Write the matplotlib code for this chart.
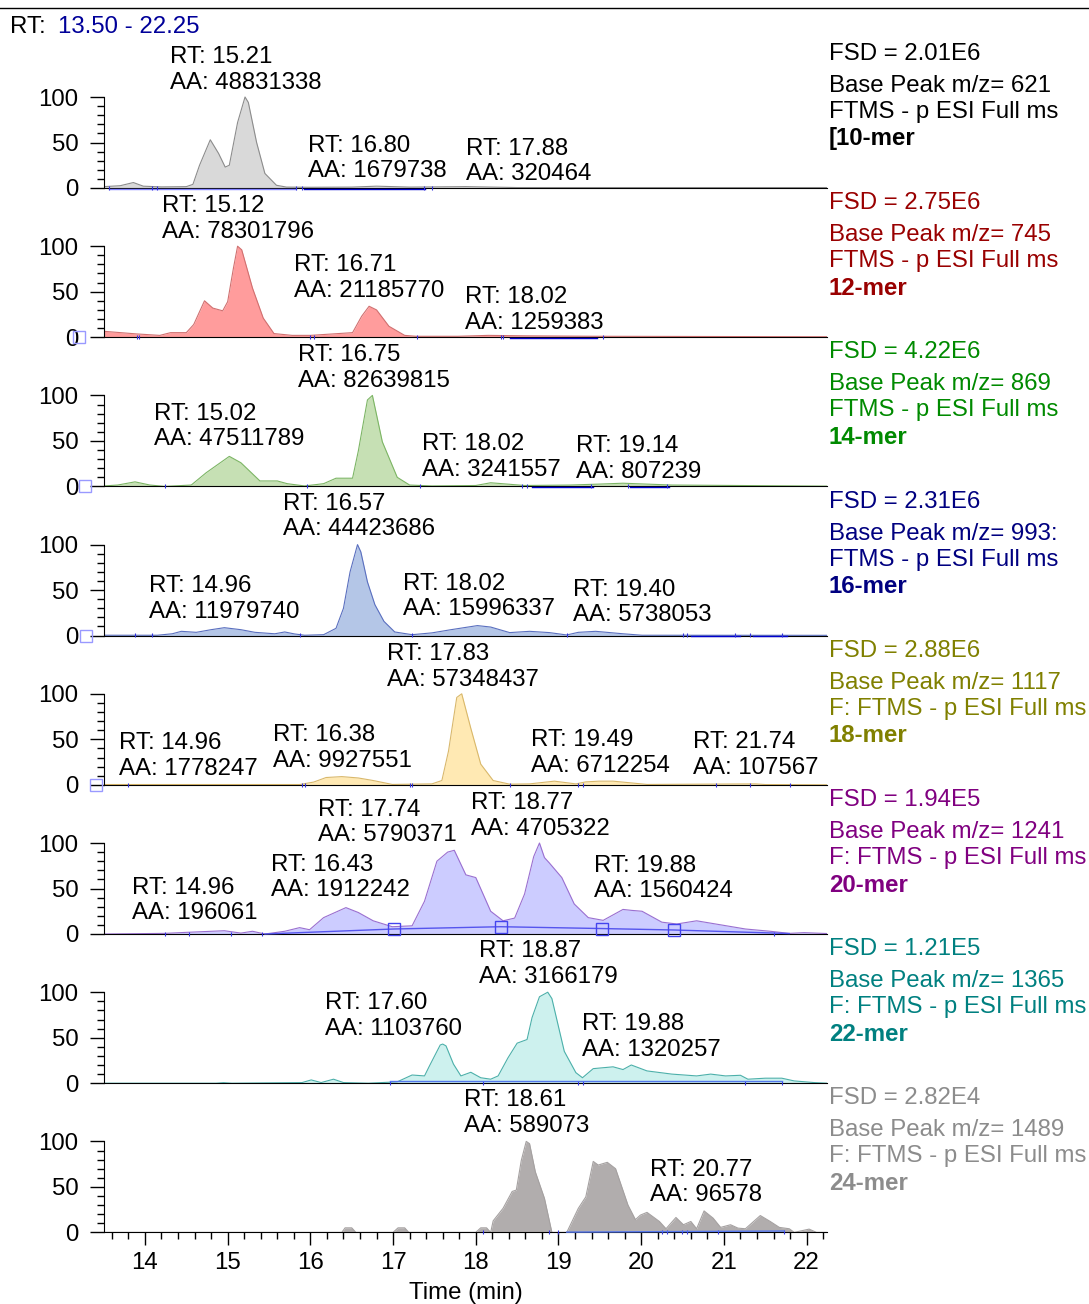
import matplotlib
matplotlib.use('agg')
import matplotlib.pyplot as plt
from matplotlib.lines import Line2D
from matplotlib.ticker import MultipleLocator, FixedLocator

plt.rcParams['font.family'] = ['Liberation Sans', 'DejaVu Sans']

# retention time (min) and relative abundance for each trace
t10 = [13.5, 13.7, 13.86, 13.98, 14.2, 14.5, 14.58, 14.66, 14.79, 14.89,
       14.97, 15.02, 15.12, 15.21, 15.25, 15.35, 15.45, 15.59, 15.71, 16.0,
       16.5, 16.8, 17.2, 17.88, 18.5, 19.5, 22.25]
i10 = [1.5, 2.5, 6, 2, 1.2, 1.5, 4, 25, 53, 38,
       23, 25, 72, 100, 94, 50, 16, 3, 1, 0.8,
       1, 2, 1, 1.5, 0.5, 0.5, 0.5]

t12 = [13.5, 13.9, 14.18, 14.31, 14.5, 14.59, 14.72, 14.82, 14.94, 15.0,
       15.07, 15.12, 15.17, 15.3, 15.43, 15.56, 15.78, 16.0, 16.34, 16.51,
       16.62, 16.71, 16.8, 16.95, 17.14, 17.28, 17.78, 18.15, 18.6, 19.5,
       22.25]
i12 = [6.5, 3.6, 2, 5, 5, 14, 40, 32, 29, 39,
       76, 100, 96, 54, 21, 4, 2, 2, 4, 5,
       23, 34, 30, 12, 2, 1, 1, 2, 1.5, 1,
       0.5]

t14 = [13.5, 13.67, 13.88, 14.06, 14.24, 14.56, 14.74, 15.02, 15.16, 15.39,
       15.6, 15.72, 15.93, 16.16, 16.31, 16.51, 16.58, 16.69, 16.75, 16.87,
       17.05, 17.2, 17.47, 18.0, 18.18, 18.59, 19.14, 19.48, 19.78, 20.37,
       22.25]
i14 = [0.5, 1.5, 5, 1.5, 0, 1.5, 15, 33, 26, 6,
       6, 3, 0.5, 3, 9, 9, 39, 95, 100, 49,
       10, 1.5, 0.5, 1, 4, 1, 1.5, 2.5, 3.5, 1.5,
       0.3]

t16 = [13.5, 14.15, 14.33, 14.44, 14.62, 14.8, 14.96, 15.16, 15.33, 15.57,
       15.69, 15.81, 15.93, 16.16, 16.31, 16.4, 16.48, 16.57, 16.61, 16.69,
       16.78, 16.89, 17.02, 17.23, 17.47, 17.7, 18.02, 18.18, 18.41, 18.65,
       18.89, 19.1, 19.24, 19.45, 19.78, 20.01, 22.25]
i16 = [0.4, 0.4, 2, 4.7, 3.6, 6.5, 8.7, 6.5, 3.6, 2,
       4, 1.8, 0.4, 1, 8, 30, 70, 100, 92, 59,
       34, 15.6, 4, 1, 3, 6.5, 11, 9.4, 3.3, 4.7,
       3.3, 0.7, 3.6, 4.7, 2, 0.4, 0.3]

t18 = [13.5, 15.87, 16.04, 16.19, 16.38, 16.58, 16.76, 16.99, 17.47, 17.59,
       17.67, 17.77, 17.83, 17.94, 18.06, 18.21, 18.41, 18.65, 18.95, 19.21,
       19.33, 19.49, 19.66, 20.07, 21.38, 21.5, 22.25]
i18 = [0.3, 0.3, 3, 8, 9, 7.5, 4.7, 0.4, 1, 4.7,
       37, 96, 100, 62, 22.7, 4.7, 0.7, 1, 4, 1,
       3.2, 4, 4, 0.4, 1, 0.3, 0]

t20 = [13.5, 14.24, 14.5, 14.96, 15.16, 15.3, 15.45, 15.69, 15.87, 15.99,
       16.16, 16.43, 16.58, 16.76, 16.99, 17.23, 17.38, 17.53, 17.66, 17.74,
       17.88, 18.0, 18.18, 18.33, 18.47, 18.59, 18.7, 18.77, 18.83, 18.89,
       19.04, 19.19, 19.36, 19.54, 19.78, 19.88, 20.01, 20.25, 20.43, 20.67,
       20.9, 21.26, 21.56, 21.79, 21.97, 22.25]
i20 = [0, 0.7, 1.8, 3.6, 1, 3, 0, 3, 7, 4.7,
       18, 29, 23.6, 14.5, 8, 9, 36, 80, 90, 92,
       65, 62, 25, 14.5, 17.5, 44, 85, 100, 84, 78,
       62, 33, 18, 15, 27, 26, 25, 13, 11, 14.5,
       11, 5.5, 3, 0.7, 1.5, 0.5]

t22 = [13.5, 14.86, 14.95, 15.05, 15.9, 16.01, 16.13, 16.28, 16.4, 16.7,
       17.05, 17.23, 17.38, 17.44, 17.57, 17.6, 17.64, 17.73, 17.82, 17.94,
       18.06, 18.18, 18.27, 18.39, 18.5, 18.62, 18.68, 18.77, 18.87, 18.92,
       19.07, 19.21, 19.29, 19.42, 19.66, 19.78, 19.88, 20.07, 20.37, 20.67,
       20.84, 21.02, 21.2, 21.29, 21.5, 21.7, 21.85, 22.09, 22.25]
i22 = [0, 0, 0.6, 0, 0.7, 3.6, 0.7, 4.4, 0.7, 0,
       1.5, 9, 8, 19, 42, 43, 41, 21, 8, 12,
       6, 4.4, 8, 28, 44, 48, 72, 95, 100, 93,
       35, 11.6, 6, 16, 18, 15, 20, 13.5, 10, 8,
       10, 8, 8.7, 4.4, 5.5, 5.5, 2.5, 0.7, 0]

t24 = [13.5, 16.38, 16.42, 16.5, 16.55, 17.0, 17.06, 17.14, 17.19, 18.0,
       18.06, 18.13, 18.18, 18.21, 18.33, 18.44, 18.49, 18.55, 18.61, 18.65,
       18.72, 18.83, 18.92, 19.1, 19.24, 19.33, 19.42, 19.48, 19.59, 19.69,
       19.84, 19.93, 19.99, 20.07, 20.22, 20.3, 20.42, 20.51, 20.6, 20.67,
       20.76, 20.87, 20.96, 21.08, 21.17, 21.26, 21.44, 21.56, 21.67, 21.79,
       21.85, 22.03, 22.12, 22.25]
i24 = [0, 0, 5, 5, 0, 0, 5, 5, 0, 0,
       5, 5, 0, 12.7, 26.5, 45, 46.5, 79, 100, 97.5,
       66.5, 37.5, 0, 0, 26.5, 39, 78, 74, 77, 70,
       30, 14, 19, 22, 12, 4, 16.4, 8.4, 12, 4,
       23.6, 15.6, 5.5, 8.4, 4.7, 4, 18.5, 12, 5.5, 4,
       0, 3.6, 0, 0]

# peak annotations: (RT, AA)
peaks10 = [('15.21', '48831338'), ('16.80', '1679738'), ('17.88', '320464')]
peaks12 = [('15.12', '78301796'), ('16.71', '21185770'), ('18.02', '1259383')]
peaks14 = [('16.75', '82639815'), ('15.02', '47511789'), ('18.02', '3241557'),
           ('19.14', '807239')]
peaks16 = [('16.57', '44423686'), ('14.96', '11979740'), ('18.02', '15996337'),
           ('19.40', '5738053')]
peaks18 = [('17.83', '57348437'), ('14.96', '1778247'), ('16.38', '9927551'),
           ('19.49', '6712254'), ('21.74', '107567')]
peaks20 = [('17.74', '5790371'), ('18.77', '4705322'), ('14.96', '196061'),
           ('16.43', '1912242'), ('19.88', '1560424')]
peaks22 = [('18.87', '3166179'), ('17.60', '1103760'), ('19.88', '1320257')]
peaks24 = [('18.61', '589073'), ('20.77', '96578')]

fsd = ['2.01E6', '2.75E6', '4.22E6', '2.31E6', '2.88E6', '1.94E5', '1.21E5', '2.82E4']
base_mz = ['621', '745', '869', '993:', '1117', '1241', '1365', '1489']
scan = ['FTMS - p ESI Full ms'] * 4 + ['F: FTMS - p ESI Full ms'] * 4
names = ['[10-mer', '12-mer', '14-mer', '16-mer', '18-mer', '20-mer', '22-mer', '24-mer']

# integration boundary marks
marks = [
    [13.57, 14.08, 14.14, 15.83, 15.9, 17.37, 17.47],
    [13.9, 13.93, 16.0, 16.04, 17.29, 18.3, 18.33, 19.54],
    [14.24, 15.96, 17.32, 18.56, 18.62, 19.39, 19.84, 20.31],
    [13.88, 14.09, 15.87, 17.23, 19.1, 20.5, 20.55, 21.14, 21.32, 21.7],
    [13.79, 15.9, 15.93, 17.2, 17.23, 18.41, 19.24, 19.3, 20.9, 21.32, 21.8],
    [14.24, 14.53, 15.04, 15.42, 21.6],
    [16.96, 18.09, 19.24, 19.3, 21.26, 21.7],
    [18.09, 18.89, 19.0, 20.25, 20.31, 20.49, 20.55, 20.93, 21.73],
]
base_segs = [
    [(13.57, 15.83, '#8080ff'), (15.92, 17.39, '#0000cc')],
    [(18.41, 19.47, '#0000cc')],
    [(18.68, 19.42, '#0000cc'), (19.87, 20.34, '#0000cc')],
    [(20.6, 21.2, '#0000cc'), (21.35, 21.76, '#0000cc')],
    [],
    [],
    [],
    [],
]
# curved baseline under the 20-mer peaks
bl20_t = [15.45, 17.01, 18.3, 19.52, 20.4, 21.79]
bl20_i = [0, 5.5, 8, 6, 4.4, 0.5]
bl20_sq = [17.01, 18.3, 19.52, 20.4]
bl20_sqi = [5.5, 8, 6, 4.4]
bl22_t = [16.96, 21.7]
bl22_i = [2, 2]
bl24_t = [19.1, 21.73]
bl24_i = [0.3, 1.5]

fills = ['#d9d9d9', '#ff9c9c', '#c6e0b4', '#b4c6e7', '#ffe9b3', '#ccccff', '#cdf1ee', '#b1adad']
edges = ['#8c8c8c', '#d07070', '#7cb564', '#5a6fbf', '#d9b86b', '#9a6fd0', '#4cb0aa', '#a5a1a1']
txtcol = ['#000000', '#990000', '#008a00', '#000080', '#808000', '#800080', '#008080', '#8c8c8c']

# label anchors (RT, rel. abundance at middle of the two-line label)
lab_pos = [
    [(14.30, 129.7), (15.97, 32.4), (17.88, 29.1)],
    [(14.21, 129.7), (15.80, 65.4), (17.87, 30.2)],
    [(15.85, 130.2), (14.11, 65.9), (17.35, 32.4), (19.21, 30.2)],
    [(15.67, 130.8), (14.05, 40.1), (17.12, 42.9), (19.18, 36.3)],
    [(16.93, 129.7), (13.69, 31.3), (15.55, 40.1), (18.67, 35.2), (20.63, 32.4)],
    [(16.09, 122.5), (17.94, 129.7), (13.84, 36.8), (15.52, 62.1), (19.43, 61.0)],
    [(18.04, 131.3), (16.18, 73.6), (19.28, 50.5)],
    [(17.86, 131.3), (20.11, 54.9)],
]
sq_left = [None, 13.20, 13.27, 13.29, 13.41, None, None, None]


def main():
    W, H = 1089, 1304
    fig = plt.figure(figsize=(W / 100, H / 100), dpi=100)
    traces = [(t10, i10), (t12, i12), (t14, i14), (t16, i16),
              (t18, i18), (t20, i20), (t22, i22), (t24, i24)]
    peaks = [peaks10, peaks12, peaks14, peaks16, peaks18, peaks20, peaks22, peaks24]
    fs = 17.3
    px_per = 0.91
    ymin, ymax = -4, 160
    x0, x1 = 103.6, 827.3
    for k in range(8):
        base = 188 + 149.2 * k
        hpx = (ymax - ymin) * px_per
        bot = base - ymin * px_per
        ax = fig.add_axes([x0 / W, 1 - bot / H, (x1 - x0) / W, hpx / H])
        ax.set_xlim(13.5, 22.25)
        ax.set_ylim(ymin, ymax)
        ax.patch.set_alpha(0)
        t, y = traces[k]
        ax.fill_between(t, y, 0, color=fills[k], lw=0, zorder=1)
        ax.plot(t, y, color=edges[k], lw=0.8, zorder=2)

        for a, b, c in base_segs[k]:
            ax.plot([a, b], [-0.8, -0.8], color=c, lw=1, zorder=3)
        ax.vlines(marks[k], -2, 2.5, color='#3333dd', lw=0.8, zorder=3)
        if k == 5:
            ax.plot(bl20_t, bl20_i, color='#5555ee', lw=1, zorder=3)
            ax.plot(bl20_sq, bl20_sqi, 's', ms=8, mfc='none',
                    mec='#4444ee', mew=1, zorder=4)
        if k == 6:
            ax.plot(bl22_t, bl22_i, color='#5577ee', lw=1, zorder=3)
        if k == 7:
            ax.plot(bl24_t, bl24_i, color='#5577ee', lw=1, zorder=3)
        if sq_left[k] is not None:
            ax.plot([sq_left[k]], [0], 's', ms=9, mfc='none', mec='#9999ff',
                    mew=1, clip_on=False, zorder=4)

        for (rt, aa), (lx, ly) in zip(peaks[k], lab_pos[k]):
            ax.text(lx, ly, 'RT: %s\nAA: %s' % (rt, aa), fontsize=fs,
                    va='center', ha='left', linespacing=1.22, zorder=5)

        for s in ['top', 'right']:
            ax.spines[s].set_visible(False)
        ax.spines['left'].set_bounds(0, 100)
        ax.spines['bottom'].set_position(('data', 0))
        ax.spines['bottom'].set_zorder(2.5)
        ax.set_yticks([0, 50, 100])
        ax.yaxis.set_minor_locator(FixedLocator(range(10, 100, 10)))
        ax.tick_params(axis='y', which='major', direction='out', length=10,
                       width=1, labelsize=fs, pad=8)
        ax.tick_params(axis='y', which='minor', direction='out', length=5, width=1)
        if k < 7:
            ax.set_xticks([])
            ax.xaxis.set_minor_locator(plt.NullLocator())
        else:
            ax.set_xticks(range(14, 23))
            ax.xaxis.set_minor_locator(MultipleLocator(0.2))
            ax.tick_params(axis='x', which='major', direction='out', length=9,
                           width=1, labelsize=fs, pad=5)
            ax.tick_params(axis='x', which='minor', direction='out', length=5, width=1)
            ax.set_xlabel('Time (min)', fontsize=fs, labelpad=6)

        tx = 829 / W
        c = txtcol[k]
        fig.text(tx, 1 - (54 + 149.2 * k) / H, 'FSD = ' + fsd[k], color=c,
                 fontsize=fs, va='center')
        fig.text(tx, 1 - (86 + 149.2 * k) / H, 'Base Peak m/z= ' + base_mz[k],
                 color=c, fontsize=fs, va='center')
        fig.text(tx, 1 - (112 + 149.2 * k) / H, scan[k], color=c,
                 fontsize=fs, va='center')
        fig.text(tx, 1 - (139 + 149.2 * k) / H, names[k], color=c,
                 fontsize=fs, va='center', fontweight='bold')

    fig.add_artist(Line2D([0, 1], [1 - 8 / H, 1 - 8 / H], color='black', lw=1))
    fig.text(10 / W, 1 - 27 / H, 'RT:', fontsize=fs, va='center')
    fig.text(58 / W, 1 - 27 / H, '13.50 - 22.25', fontsize=fs, va='center',
             color='#000099')
    fig.savefig('out.png', dpi=100)


if __name__ == '__main__':
    main()
